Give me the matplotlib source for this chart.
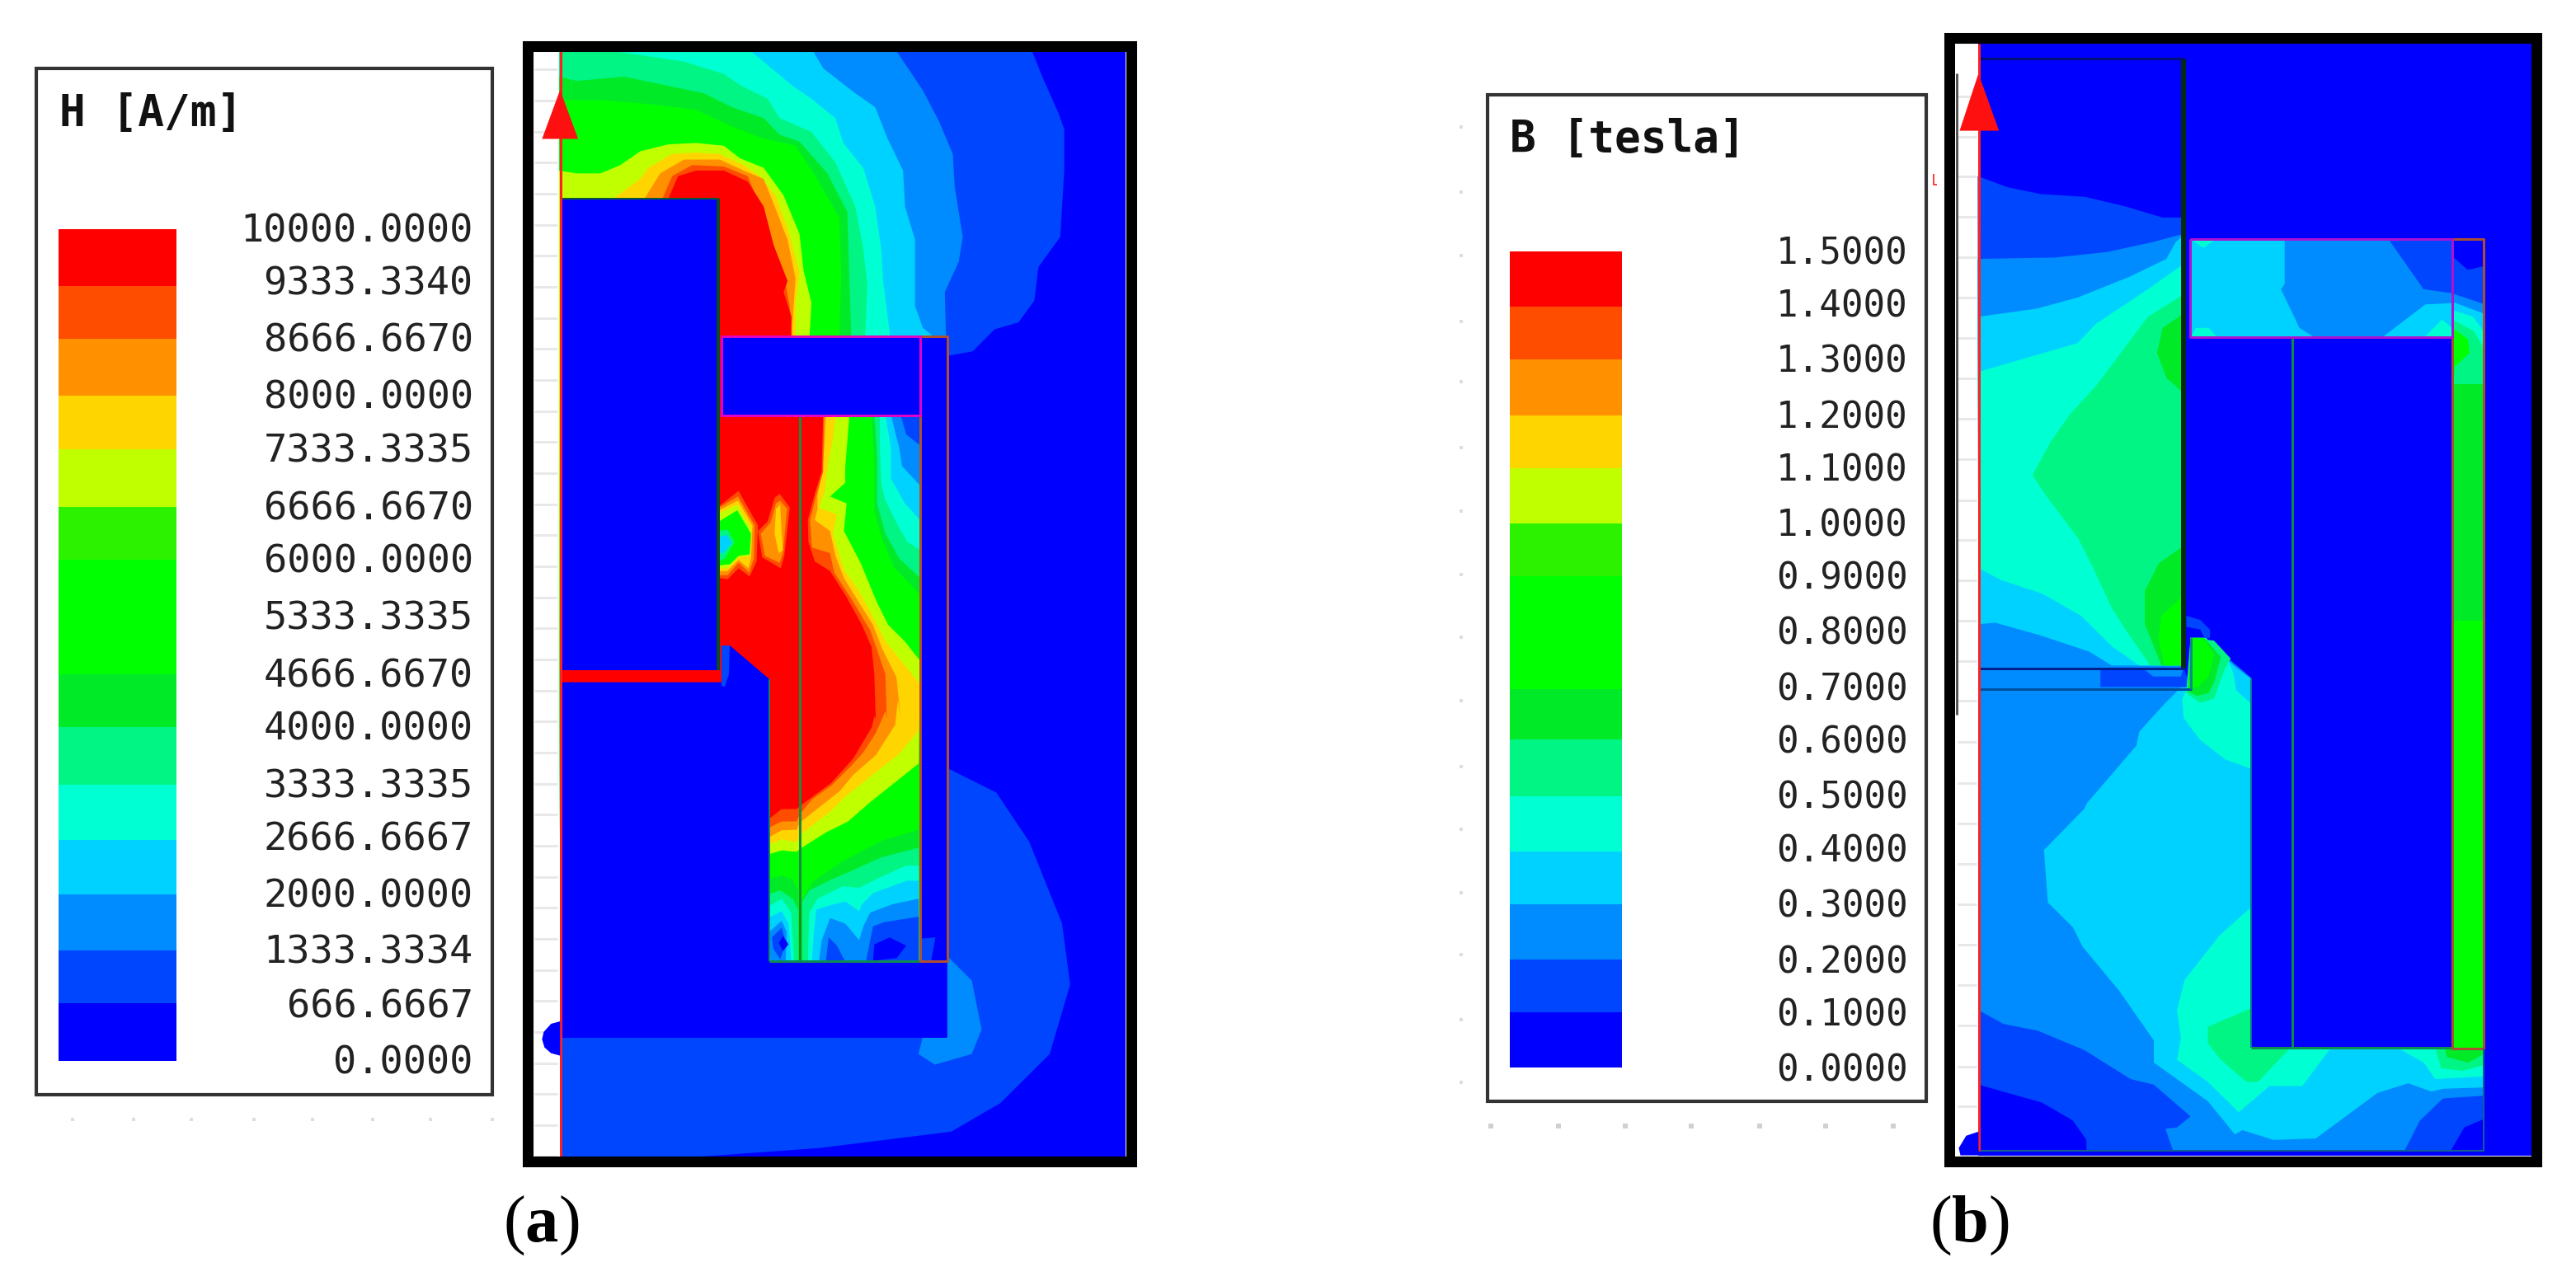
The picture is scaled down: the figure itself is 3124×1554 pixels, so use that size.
import matplotlib
matplotlib.use('Agg')
import matplotlib.pyplot as plt
from matplotlib.patches import Rectangle

plt.rcParams['mathtext.fontset'] = 'custom'
plt.rcParams['mathtext.rm'] = 'Liberation Serif'
plt.rcParams['mathtext.bf'] = 'Liberation Serif:bold'

# band colours, low to high
LEVELS = ['#0000ff', '#0046ff', '#008cff', '#00d2ff', '#00ffd2', '#00f584', '#00ea28', '#00ff00',
          '#00ff00', '#2cf200', '#c0ff00', '#ffd500', '#ff9100', '#ff4d00', '#ff0000']

H_LABELS = ['10000.0000', '9333.3340', '8666.6670', '8000.0000', '7333.3335', '6666.6670', '6000.0000', '5333.3335',
            '4666.6670', '4000.0000', '3333.3335', '2666.6667', '2000.0000', '1333.3334', '666.6667', '0.0000']
B_LABELS = ['1.5000', '1.4000', '1.3000', '1.2000', '1.1000', '1.0000', '0.9000', '0.8000',
            '0.7000', '0.6000', '0.5000', '0.4000', '0.3000', '0.2000', '0.1000', '0.0000']
H_EDGES = [280, 350, 415, 484, 550, 620, 685, 755, 825, 890, 960, 1028, 1095, 1163, 1228, 1298]
B_EDGES = [308, 375, 440, 508, 573, 641, 705, 775, 843, 905, 975, 1042, 1107, 1174, 1239, 1307]
H_LABEL_Y = [283, 348, 418, 487, 553, 623, 688, 758, 828, 893, 963, 1028, 1098, 1166, 1233, 1301]
B_LABEL_Y = [311, 375, 443, 511, 576, 644, 708, 776, 844, 909, 977, 1042, 1110, 1178, 1243, 1311]


def crop3(pts):   # H map, top part
    return [(640 + x / 2.06, 50 + y / 2.96) for x, y in pts]

def crop4(pts):   # H map, middle part
    return [(863.5 + x / 2.96, 504.6 + y / 2.96) for x, y in pts]

def crop5(pts):   # H map, bottom part
    return [(922.7 + x / 2.96, 856.7 + y / 2.96) for x, y in pts]

def crop6(pts):   # B map, top part
    return [(2390 + x / 2.217, 50 + y / 2.96) for x, y in pts]

def crop7(pts):   # B map, middle part
    return [(2390 + x / 2.96, 480 + y / 2.96) for x, y in pts]

def crop8(pts):   # B map, bottom part
    return [(2360 + x / 2.127, 966 + y / 2.96) for x, y in pts]


# H field: level, contour above the rectangle, contour in the window, contour low in the window
H_STACK = [
    (1, [(85, 40), (1275, 40), (1300, 130), (1340, 260), (1355, 320), (1355, 470), (1345, 710), (1290, 820), (1280, 940),
         (1240, 1020), (1180, 1045), (1125, 1125), (1065, 1140)], [], []),
    (2, [(85, 40), (935, 40), (1000, 180), (1040, 290), (1075, 410), (1080, 530), (1100, 710), (1090, 800), (1055, 910), (1058, 1075)],
     [(695, 10), (715, 80), (765, 120)], []),
    (3, [(85, 40), (725, 40), (750, 100), (830, 190), (880, 240), (910, 350), (950, 470), (955, 600), (980, 720), (980, 960),
         (1000, 1040), (1030, 1075)], [(660, 10), (690, 130), (700, 195), (765, 265)], []),
    (4, [(85, 40), (570, 40), (620, 100), (670, 160), (720, 210), (780, 280), (800, 370), (850, 460), (880, 600), (895, 750),
         (900, 870), (915, 1040), (918, 1075)], [(640, 10), (660, 130), (660, 240), (710, 330), (765, 390)], []),
    (5, [(85, 40), (235, 40), (400, 75), (500, 120), (540, 160), (610, 210), (640, 280), (720, 330), (780, 440), (830, 600),
         (850, 750), (860, 880), (855, 1075)], [(620, 10), (620, 130), (625, 260), (640, 320), (690, 420), (720, 470), (765, 498)], []),
    (6, [(85, 130), (130, 145), (250, 130), (350, 160), (450, 190), (520, 240), (600, 280), (640, 340), (690, 365), (760, 480),
         (810, 620), (815, 850), (820, 1075)], [(600, 10), (610, 160), (610, 330), (640, 440), (690, 530), (765, 600)], []),
    (7, [(85, 215), (200, 215), (320, 230), (430, 250), (520, 310), (590, 350), (680, 380), (730, 490), (790, 640), (795, 850),
         (790, 1075)], [(590, 10), (600, 170), (600, 360), (625, 450), (670, 560), (765, 660)], []),
    (10, [(85, 470), (130, 480), (190, 480), (240, 450), (290, 400), (360, 375), (430, 370), (500, 380), (540, 425), (600, 460),
          (650, 560), (690, 700), (700, 830), (720, 950), (715, 1075)],
     [(510, 10), (495, 200), (495, 255), (440, 305), (500, 330), (490, 430), (550, 545), (610, 690), (650, 770), (710, 830), (765, 900)],
     [(585, 230), (510, 290), (410, 370), (330, 440), (250, 480), (155, 540), (145, 550), (90, 545), (40, 560)]),
    (11, [(220, 573), (290, 500), (310, 460), (370, 410), (430, 405), (490, 410), (550, 450), (590, 490), (630, 560), (665, 700),
          (690, 840), (680, 950), (680, 1075)],
     [(460, 10), (450, 100), (430, 200), (420, 290), (400, 345), (465, 370), (450, 440), (490, 570), (540, 640), (590, 730), (640, 830), (765, 985)],
     [(585, 110), (515, 195), (420, 270), (320, 350), (270, 400), (155, 490), (145, 515), (90, 505), (40, 525)]),
    (12, [(300, 573), (340, 480), (400, 430), (490, 430), (550, 470), (600, 500), (625, 590), (660, 720), (680, 860), (670, 1075)],
     [(425, 10), (420, 120), (412, 215), (395, 300), (395, 350), (385, 390), (440, 430), (460, 520), (490, 600), (545, 690), (595, 770),
      (630, 860), (680, 960), (695, 1110)],
     [(510, 0), (500, 90), (430, 200), (350, 270), (300, 330), (155, 445), (145, 470), (90, 472), (40, 500)]),
    (13, [(345, 573), (370, 490), (420, 450), (500, 455), (560, 490), (580, 560), (610, 680), (650, 840), (665, 960), (672, 1075)],
     [(418, 10), (415, 215), (392, 295), (368, 390), (375, 490), (440, 510), (455, 580), (520, 680), (585, 790), (610, 860), (640, 950), (645, 1110)],
     [(465, 40), (430, 120), (385, 190), (340, 240), (270, 310), (200, 360), (155, 415), (145, 440), (90, 440), (40, 465)]),
    (14, [(360, 573), (385, 490), (430, 470), (500, 470), (560, 510), (600, 600), (625, 740), (660, 870), (650, 910), (670, 1000), (668, 1075)],
     [(415, 10), (410, 215), (385, 295), (360, 390), (362, 470), (385, 540), (440, 575), (500, 670), (555, 770), (590, 850), (600, 950), (605, 1110)],
     [(425, 60), (415, 100), (350, 210), (270, 300), (155, 385), (145, 395), (90, 395), (40, 435)]),
]

# low field pockets at the bottom of the window
H_BOTTOM = [
    (6, [(585, 470), (450, 510), (300, 590), (200, 660), (165, 720), (165, 945), (585, 945)]),
    (5, [(585, 535), (450, 570), (340, 620), (270, 650), (190, 690), (165, 730), (165, 945), (585, 945)]),
    (4, [(585, 600), (540, 600), (450, 640), (370, 680), (310, 675), (220, 720), (190, 770), (185, 945), (585, 945)]),
    (3, [(585, 655), (540, 655), (420, 700), (380, 740), (370, 765), (320, 730), (260, 745), (215, 760), (205, 860), (200, 945), (585, 945)]),
    (2, [(585, 720), (490, 740), (410, 770), (385, 820), (370, 870), (320, 810), (265, 790), (235, 870), (225, 945), (585, 945)]),
    (1, [(585, 785), (460, 805), (420, 820), (395, 945), (585, 945)]),
    (1, [(250, 945), (260, 860), (290, 890), (318, 945)]),
    (0, [(425, 885), (480, 860), (540, 890), (505, 935), (420, 945)]),
    (6, [(40, 650), (90, 635), (130, 650), (150, 690), (150, 945), (40, 945)]),
    (5, [(40, 705), (85, 690), (130, 720), (150, 760), (150, 945), (40, 945)]),
    (4, [(40, 750), (90, 720), (125, 770), (135, 945), (40, 945)]),
    (3, [(40, 790), (90, 765), (115, 810), (125, 945), (40, 945)]),
    (2, [(45, 840), (90, 800), (108, 840), (105, 945), (50, 945)]),
    (1, [(55, 860), (90, 825), (105, 880), (85, 940), (60, 900)]),
    (0, [(80, 880), (95, 855), (115, 885), (95, 910)]),
]

# hot spot next to the pole face
H_ISLANDS = [
    (13, [(40, 340), (110, 285), (180, 410), (175, 540), (150, 595), (110, 565), (70, 605), (40, 600)]),
    (12, [(40, 345), (108, 305), (168, 410), (165, 530), (148, 580), (110, 545), (70, 590), (40, 590)]),
    (11, [(40, 355), (108, 320), (160, 410), (155, 530), (145, 565), (110, 535), (70, 575), (40, 575)]),
    (10, [(40, 365), (105, 335), (155, 420), (150, 520), (110, 525), (70, 565), (40, 565)]),
    (7, [(40, 395), (105, 355), (155, 440), (150, 515), (110, 520), (80, 550), (40, 555)]),
    (5, [(40, 430), (70, 425), (95, 470), (60, 530), (40, 540)]),
    (3, [(40, 450), (70, 445), (85, 475), (55, 510), (40, 510)]),
    (13, [(180, 430), (215, 395), (240, 310), (258, 295), (295, 345), (275, 520), (262, 565), (195, 525)]),
    (12, [(190, 440), (225, 400), (245, 330), (260, 320), (285, 350), (270, 510), (258, 545), (205, 520)]),
    (11, [(240, 440), (245, 350), (260, 335), (265, 430), (270, 500), (255, 510)]),
]

H_LOWER_OUTER = [(1155, 940), (1215, 970), (1255, 1030), (1295, 1130), (1305, 1205), (1280, 1290), (1220, 1350), (1160, 1385),
                 (1000, 1405), (820, 1418), (683, 1418), (683, 1270), (1155, 1270)]
H_LOWER_INNER = [(1155, 1170), (1185, 1200), (1197, 1260), (1185, 1290), (1140, 1303), (1120, 1290), (1125, 1270), (1155, 1270)]
H_POLE = [(683, 835), (880, 835), (880, 830), (890, 790), (938, 831), (938, 1176), (1155, 1176), (1155, 1270), (683, 1270)]

# B field, upper block
B_BLOCK = [
    (1, crop6([(20, 490), (100, 530), (190, 555), (310, 565), (420, 600), (520, 640), (575, 640)]) + [(2650, 818), (2400, 818)]),
    (2, crop6([(20, 790), (230, 785), (370, 765), (490, 730), (560, 705), (575, 700)]) + [(2650, 818), (2400, 818)]),
    (3, crop6([(20, 1000), (180, 970), (290, 930), (430, 855), (530, 790), (555, 730), (575, 705)])
        + crop7([(770, 990), (510, 990), (430, 940), (250, 880), (90, 835), (35, 840)])),
    (4, crop6([(20, 1200), (200, 1130), (290, 1095), (340, 1025), (480, 900), (575, 810)])
        + crop7([(770, 990), (610, 990), (510, 920), (400, 810), (260, 730), (110, 680), (35, 640)])),
    (5, crop6([(575, 920), (480, 1000), (340, 1250)])
        + crop7([(360, 80), (290, 180), (225, 300), (270, 370), (390, 530), (450, 650), (510, 780), (560, 860), (650, 990), (770, 990)])),
    (6, crop6([(575, 990), (520, 1040), (505, 1130), (530, 1220), (575, 1275)])),
    (6, crop7([(765, 560), (680, 620), (630, 720), (630, 840), (690, 990), (770, 990)])),
    (7, crop7([(765, 740), (690, 810), (680, 890), (700, 990), (770, 990)])),
]

B_POLE = [(2659, 781), (2675, 781), (2733, 830), (2733, 1282), (3015, 1282), (3015, 1408), (2400, 1408), (2400, 843), (2659, 843)]

B_LOWER = [
    (3, crop7([(795, 1070), (760, 1070), (700, 1130), (610, 1230), (600, 1280), (420, 1490)])
        + crop8([(360, 70), (255, 220), (265, 410), (330, 500), (355, 570), (450, 730), (540, 910), (540, 990), (680, 1130), (750, 1250),
                 (770, 1235), (850, 1270), (960, 1265), (1120, 1100), (1200, 1065), (1260, 1095), (1290, 1085), (1395, 1080), (1395, 935), (790, 935)])
        + crop7([(1015, 1040), (950, 990), (850, 890), (795, 890)])),
    (4, crop7([(780, 1080), (765, 1110), (770, 1180), (830, 1260), (920, 1330), (1015, 1365), (1015, 1130), (960, 1080), (950, 1020), (930, 970), (850, 890), (795, 890)])),
    (4, crop8([(790, 430), (710, 530), (620, 690), (600, 800), (610, 900), (600, 980), (680, 1060), (760, 1170), (840, 1075), (925, 1075), (1000, 935), (790, 935)])),
    (4, crop8([(1170, 935), (1240, 990), (1270, 1050), (1395, 1040), (1395, 935)])),
    (5, crop7([(780, 1090), (830, 1125), (880, 1110), (920, 1000), (940, 965), (880, 900), (800, 890)])),
    (5, crop8([(790, 795), (680, 860), (680, 920), (710, 975), (780, 1060), (810, 1060), (895, 935), (790, 935)])),
    (5, crop8([(1270, 935), (1285, 1010), (1340, 1020), (1395, 1000), (1395, 935)])),
    (6, crop7([(795, 890), (845, 890), (905, 960), (880, 1050), (860, 1090), (820, 1100), (785, 1085)])),
    (7, crop7([(800, 890), (840, 890), (880, 950), (860, 1030), (820, 1070), (800, 1070)])),
    (6, crop8([(1295, 935), (1300, 970), (1355, 990), (1395, 960), (1395, 935)])),
    (1, crop8([(85, 800), (150, 850), (240, 875), (360, 945), (480, 1050), (540, 1070), (635, 1185), (600, 1225), (570, 1230), (590, 1310), (85, 1310)])),
    (0, crop8([(85, 1070), (250, 1135), (330, 1200), (365, 1270), (365, 1310), (85, 1310)])),
    (1, crop8([(1190, 1310), (1230, 1200), (1290, 1120), (1395, 1110), (1395, 1310)])),
    (0, crop8([(1310, 1310), (1345, 1225), (1395, 1195), (1395, 1310)])),
    (1, crop7([(780, 810), (830, 825), (865, 860), (865, 890), (845, 890), (830, 860), (780, 850)])),
]

# the rectangle above the coil
B_RECT = [
    (2, crop6([(850, 718), (850, 880), (840, 900), (890, 1040), (935, 1078), (1110, 1078), (1230, 955), (1303, 950), (1303, 915), (1225, 900), (1130, 718)])),
    (1, crop6([(1130, 718), (1225, 900), (1303, 915), (1303, 718)])),
    (4, crop6([(600, 722), (660, 722), (630, 750)])),
    (4, crop6([(595, 1078), (610, 1040), (645, 1040), (670, 1078)])),
    (4, crop6([(1225, 1078), (1275, 1010), (1303, 1040), (1303, 1078)])),
]

# right hand limb
B_LIMB = [
    (1, crop6([(1303, 780), (1345, 830), (1392, 815), (1392, 1350), (1303, 1350)])),
    (2, crop6([(1303, 915), (1392, 955), (1392, 1350), (1303, 1350)])),
    (3, crop6([(1303, 945), (1392, 990), (1392, 1350), (1303, 1350)])),
    (4, crop6([(1303, 975), (1360, 1000), (1392, 1060), (1392, 1350), (1303, 1350)])),
    (5, crop6([(1303, 1010), (1360, 1050), (1392, 1120), (1392, 1350), (1303, 1350)])),
    (6, [(2978, 470), (3015, 470), (3015, 760), (2978, 760)]),
    (7, [(2978, 760), (3015, 760), (3015, 1282), (2978, 1282)]),
    (7, crop6([(1303, 1040), (1345, 1080), (1350, 1130), (1310, 1180), (1303, 1300)])),
]


def shape(ax, pts, color, zorder=1):
    xs, ys = zip(*pts)
    ax.fill(xs, ys, color=color, lw=0, zorder=zorder)

def line(ax, xs, ys, color, width):
    ax.plot(xs, ys, color=color, lw=width * 0.72, solid_capstyle='butt')

def rect_outline(ax, x0, y0, x1, y1, color, width):
    line(ax, [x0, x1, x1, x0, x0], [y0, y0, y1, y1, y0], color, width)

def legend(ax, box, swatch_x, edges, labels, label_y, label_x, title, title_x, title_y, size):
    ax.add_patch(Rectangle((box[0], box[1]), box[2] - box[0], box[3] - box[1], fill=False, ec='#333333', lw=3))
    bands = LEVELS[::-1]
    for i, color in enumerate(bands):
        ax.add_patch(Rectangle((swatch_x[0], edges[i]), swatch_x[1] - swatch_x[0], edges[i + 1] - edges[i], color=color, lw=0))
    for text, y in zip(labels, label_y):
        ax.text(label_x, y, text, family='DejaVu Sans Mono', fontsize=size, color='#222222', ha='right', va='center')
    ax.text(title_x, title_y, title, family='DejaVu Sans Mono', fontsize=38, weight='bold', color='#111111', ha='left', va='center')


fig = plt.figure(figsize=(31.24, 15.54), dpi=100)

# panel coordinates run slightly larger than output pixels
ax_a = fig.add_axes([0, 0, 1560 / 3124, 1])
ax_a.set_xlim(0, 1560 / 0.9945)
ax_a.set_ylim(1554 / 0.9912, 0)
ax_a.axis('off')
ax_b = fig.add_axes([1560 / 3124, 0, 1564 / 3124, 1])
ax_b.set_xlim(1556, 1556 + 1564 / 0.9945)
ax_b.set_ylim(1554 / 0.9912, 0)
ax_b.axis('off')

legend(ax_a, (44, 84, 600, 1340), (71, 215), H_EDGES, H_LABELS, H_LABEL_Y, 577, 'H [A/m]', 72, 139, 33.8)
legend(ax_b, (1801, 116, 2336, 1348), (1828, 1965), B_EDGES, B_LABELS, B_LABEL_Y, 2314, 'B [tesla]', 1829, 170, 31.8)

# faint dots around the legends
ax_a.scatter([88, 163, 233, 310, 381, 455, 525, 600], [1370] * 8, s=12, color='#dddddd', marker='s', lw=0)
ax_b.scatter([1805, 1888, 1969, 2050, 2133, 2214, 2296], [1378] * 7, s=20, color='#d0d0d0', marker='s', lw=0)
ax_b.scatter([1769] * 16, [155, 235, 313, 393, 467, 548, 625, 703, 780, 858, 938, 1015, 1093, 1168, 1248, 1325], s=12, color='#dddddd', marker='s', lw=0)

# ---- H map
ax = ax_a
shape(ax, [(683, 63), (1373, 63), (1373, 1418), (683, 1418)], LEVELS[0])
shape(ax, H_LOWER_OUTER, LEVELS[1])
shape(ax, H_LOWER_INNER, LEVELS[2])
for level, top, mid, low in H_STACK:
    pts = crop3(top) + crop4(mid) + crop5(low)
    if not low:
        pts = pts + [(1122, 1176)]
    shape(ax, pts + [(683, 1176)], LEVELS[level])
for level, pts in H_BOTTOM:
    shape(ax, crop5(pts), LEVELS[level])
for level, pts in H_ISLANDS:
    shape(ax, crop4(pts), LEVELS[level])
shape(ax, crop4([(0, 800), (22, 800), (22, 935), (0, 935)]), LEVELS[1])
shape(ax, [(683, 243), (875, 243), (875, 820), (683, 820)], LEVELS[0])
shape(ax, [(683, 820), (879, 820), (879, 835), (683, 835)], '#ff0000')
shape(ax, H_POLE, LEVELS[0])
shape(ax, crop4([(48, 845), (78, 845), (75, 950), (60, 995), (48, 990)]), LEVELS[1])
shape(ax, [(880, 412), (1122, 412), (1122, 508), (880, 508)], LEVELS[0])
shape(ax, [(1122, 412), (1155, 412), (1155, 1176), (1122, 1176)], LEVELS[0])
shape(ax, crop5([(590, 865), (645, 860), (630, 945), (590, 945)]), LEVELS[1])
line(ax, [876, 876], [243, 820], '#0a4a28', 4)
line(ax, [683, 876], [243, 243], '#0a5a30', 2)
line(ax, [938, 938], [831, 1176], '#108070', 2)
line(ax, [975, 975], [508, 1176], '#1a8a40', 3)
line(ax, [938, 1122], [1176, 1176], '#108a50', 3)
line(ax, [1122, 1122], [508, 1176], '#a08040', 3)
rect_outline(ax, 1122, 412, 1155, 1176, '#b05030', 3)
rect_outline(ax, 880, 412, 1122, 508, '#e000c8', 3)
# left strip with its scale marks
shape(ax, [(650, 63), (682, 63), (682, 1418), (650, 1418)], 'white')
for y in range(85, 1420, 38):
    line(ax, [652, 680], [y, y], '#e8e8e8', 3)
line(ax, [684, 684], [63, 1418], '#ff2020', 3)
shape(ax, [(683, 110), (661, 170), (705, 170)], '#ff1010', zorder=3)
shape(ax, [(683, 1250), (672, 1253), (663, 1263), (661, 1272), (664, 1282), (672, 1289), (683, 1292)], LEVELS[0], zorder=3)
ax.add_patch(Rectangle((643.5, 56.5), 736, 1365, fill=False, ec='black', lw=9.4, joinstyle='miter', zorder=5))
ax.text(660, 1500, r'($\mathbf{a}$)', family='Liberation Serif', fontsize=58, color='black', ha='center', va='center')

# ---- B map
ax = ax_b
shape(ax, [(2400, 53), (3074, 53), (3074, 1414), (2400, 1414)], LEVELS[0])
for level, pts in B_BLOCK:
    shape(ax, pts, LEVELS[level])
shape(ax, [(2400, 818), (2650, 818), (2659, 843), (2400, 843)], LEVELS[2])
shape(ax, crop7([(470, 998), (770, 998), (795, 1068), (470, 1068)]), LEVELS[1])
shape(ax, crop7([(620, 998), (770, 998), (760, 1030), (660, 1030)]), LEVELS[2])
shape(ax, B_POLE, LEVELS[2])
for level, pts in B_LOWER:
    shape(ax, pts, LEVELS[level])
shape(ax, [(2733, 413), (2978, 413), (2978, 1282), (2733, 1282)], LEVELS[0])
shape(ax, [(2658, 293), (2978, 293), (2978, 413), (2658, 413)], LEVELS[3])
for level, pts in B_RECT:
    shape(ax, pts, LEVELS[level])
for level, pts in B_LIMB:
    shape(ax, pts, LEVELS[level])
line(ax, [2650, 2650], [72, 818], '#062a14', 6)
line(ax, [2400, 2652], [72, 72], '#00107a', 3)
line(ax, [2400, 2652], [818, 818], '#002090', 3)
line(ax, [2400, 2660], [843, 843], '#0050a0', 3)
line(ax, [2659, 2659], [781, 843], '#0a8a80', 3)
line(ax, [2732, 2732], [830, 1282], '#107090', 2)
line(ax, [2783, 2783], [413, 1282], '#108a48', 3)
line(ax, [2732, 2978], [1282, 1282], '#109050', 3)
rect_outline(ax, 2978, 293, 3016, 1283, '#a85030', 3)
rect_outline(ax, 2658, 293, 2978, 413, '#b010d0', 3)
line(ax, [3016, 3016, 2400], [1283, 1408, 1408], '#106090', 2)
# left strip with its scale marks
shape(ax, [(2370, 53), (2399, 53), (2399, 1414), (2370, 1414)], 'white')
for y in [118, 167, 216, 265, 315, 364, 414, 463, 513, 562, 612, 661, 710, 760, 809, 858, 908, 958, 1008, 1057, 1107, 1156, 1206, 1255, 1305, 1354]:
    line(ax, [2375, 2398], [y, y], '#e8e8e8', 3)
line(ax, [2373, 2373], [90, 875], '#555555', 3)
line(ax, [2401, 2401], [53, 1408], '#ff2020', 3)
shape(ax, [(2400, 90), (2377, 160), (2425, 160)], '#ff1010', zorder=3)
shape(ax, [(2400, 1385), (2385, 1390), (2376, 1405), (2378, 1414), (2400, 1414)], LEVELS[0], zorder=3)
ax.add_patch(Rectangle((2364.5, 46.5), 716, 1375, fill=False, ec='black', lw=9.4, joinstyle='miter', zorder=5))
line(ax, [2345, 2345, 2349], [213, 226, 226], '#ff4040', 2)
ax.text(2389, 1500, r'($\mathbf{b}$)', family='Liberation Serif', fontsize=58, color='black', ha='center', va='center')

fig.savefig('out.png', dpi=100, facecolor='white')
